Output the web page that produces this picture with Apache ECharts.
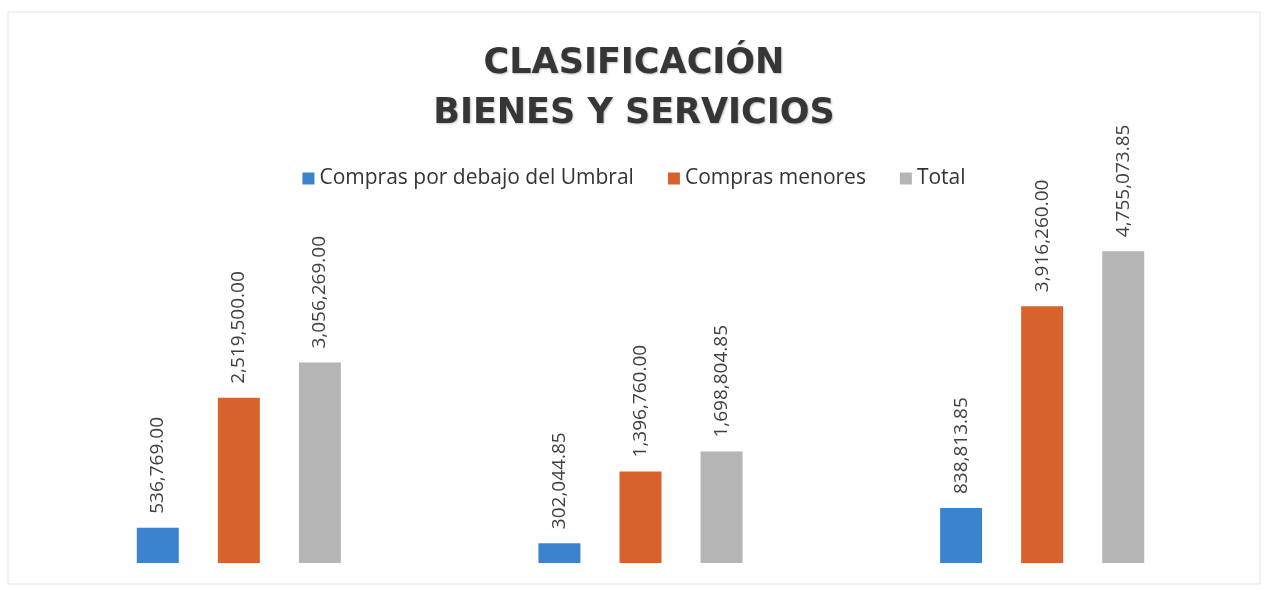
<!DOCTYPE html>
<html>
<head>
<meta charset="utf-8">
<script src="https://cdn.jsdelivr.net/npm/echarts@6/dist/echarts.min.js"></script>
<style>
  html, body { margin: 0; padding: 0; background: #fff; }
  #chart { width: 1268px; height: 590px; }
</style>
</head>
<body>
<div id="chart"></div>
<script>
// datos del grafico
const categorias = ['Grupo 1', 'Grupo 2', 'Grupo 3'];
const bajoUmbral = [536769.00, 302044.85, 838813.85];
const comprasMenores = [2519500.00, 1396760.00, 3916260.00];
const total = [3056269.00, 1698804.85, 4755073.85];
const nombresSeries = ['Compras por debajo del Umbral', 'Compras menores', 'Total'];

const fmt = function (v) {
  return Number(v).toLocaleString('en-US', { minimumFractionDigits: 2, maximumFractionDigits: 2 });
};

const chart = echarts.init(document.getElementById('chart'));

const etiqueta = {
  show: true,
  position: 'top',
  rotate: 90,
  align: 'left',
  verticalAlign: 'middle',
  distance: 14,
  color: '#404040',
  fontFamily: 'Open Sans',
  fontSize: 19,
  formatter: function (p) { return fmt(p.value); }
};

const optionData = {
  backgroundColor: '#ffffff',
  title: {
    text: 'CLASIFICACIÓN\nBIENES Y SERVICIOS',
    left: 'center',
    top: 34,
    textStyle: {
      fontFamily: 'DejaVu Sans',
      fontWeight: 'bold',
      fontSize: 35,
      lineHeight: 50,
      color: '#363636',
      textShadowColor: 'rgba(0,0,0,0.25)',
      textShadowBlur: 2,
      textShadowOffsetX: 1,
      textShadowOffsetY: 1
    }
  },
  legend: {
    data: nombresSeries,
    top: 163,
    left: 'center',
    itemWidth: 12,
    itemHeight: 12,
    itemGap: 34,
    icon: 'rect',
    textStyle: {
      fontFamily: 'Open Sans',
      fontSize: 21,
      color: '#333'
    }
  },
  grid: {
    left: 38,
    right: 25,
    top: 104,
    bottom: 27
  },
  xAxis: {
    type: 'category',
    data: categorias,
    axisLine: { show: false },
    axisTick: { show: false },
    axisLabel: { show: false }
  },
  yAxis: {
    type: 'value',
    min: 0,
    max: 7000000,
    show: false,
    splitLine: { show: false }
  },
  graphic: [{
    type: 'rect',
    shape: { x: 8, y: 12, width: 1252, height: 572 },
    style: { fill: 'none', stroke: '#e4e4e4', lineWidth: 1 },
    silent: true
  }],
  series: [{
      name: nombresSeries[0],
      type: 'bar',
      data: bajoUmbral,
      barWidth: 42,
      barGap: '93%',
      itemStyle: { color: '#3b82cf' },
      label: etiqueta
    },
    {
      name: nombresSeries[1],
      type: 'bar',
      data: comprasMenores,
      barWidth: 42,
      barGap: '93%',
      itemStyle: { color: '#d8622c' },
      label: etiqueta
    },
    {
      name: nombresSeries[2],
      type: 'bar',
      data: total,
      barWidth: 42,
      barGap: '93%',
      itemStyle: { color: '#b5b5b5' },
      label: etiqueta
    }
  ]
};

chart.setOption(optionData);
</script>
</body>
</html>
